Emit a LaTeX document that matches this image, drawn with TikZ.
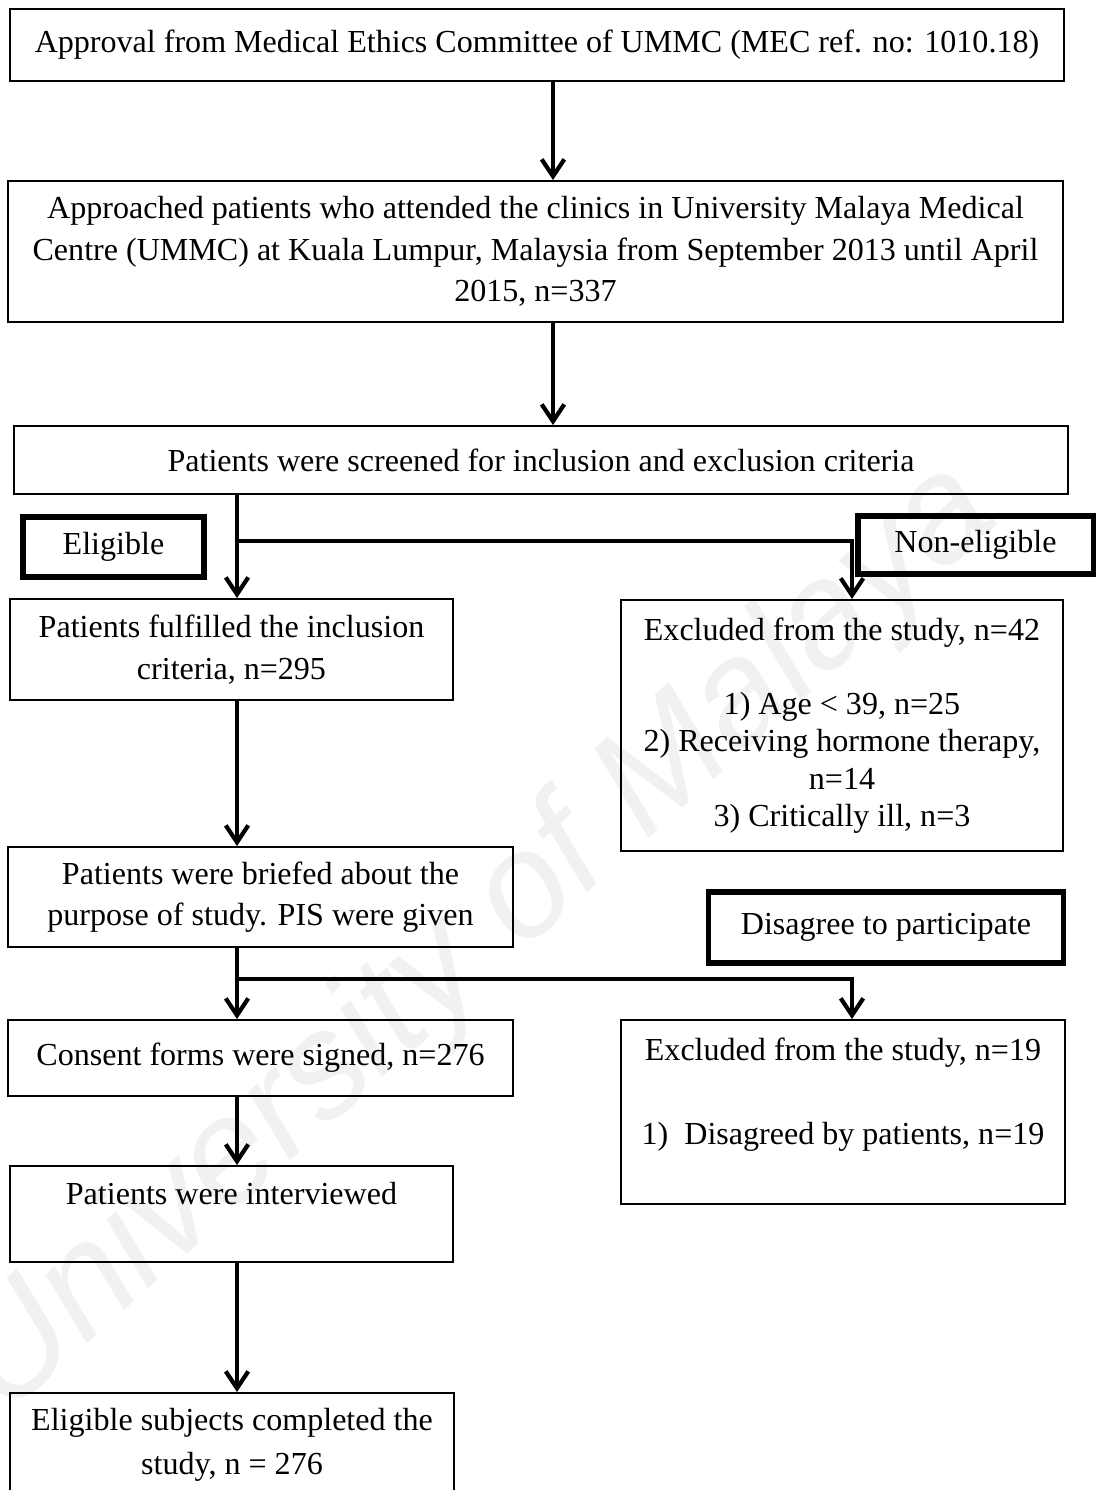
\documentclass[tikz,border=0pt]{standalone}
\usepackage{fontspec}
\setmainfont{Liberation Serif}
\newfontfamily\markfont{Liberation Sans}
\usetikzlibrary{arrows.meta,positioning}

\begin{document}
\begin{tikzpicture}[x=0.0125cm,y=-0.0125cm,
	box/.style={draw,line width=0.7pt,inner sep=0pt,align=center,font=\fontsize{11.4}{14.8}\selectfont},
	tag/.style={box,line width=1.8pt},
	flow/.style={line width=1.5pt,-{Straight Barb[length=6pt,width=8pt]}}]
	\useasboundingbox (0,0) rectangle (1096,1490);
	\node[rotate=42,text=gray!11,font=\markfont\itshape\fontsize{53}{60}\selectfont] (W) at (478,940) {University of Malaya};

	\node[box,minimum width=13.175cm,minimum height=0.9cm] (A) at (537,45) {Approval from Medical Ethics Committee of UMMC (MEC ref. no: 1010.18)};
	\node[box,minimum width=13.1875cm,minimum height=1.7625cm] (B) at (535.5,251.5) {Approached patients who attended the clinics in University Malaya Medical\\Centre (UMMC) at Kuala Lumpur, Malaysia from September 2013 until April\\2015, n=337};
	\node[box,minimum width=13.175cm,minimum height=0.85cm] (C) at (541,460) {Patients were screened for inclusion and exclusion criteria};
	\node[tag,minimum width=2.2625cm,minimum height=0.75cm] (T1) at (113.5,547) {Eligible};
	\node[tag,minimum width=2.9375cm,minimum height=0.725cm] (T2) at (975.5,545) {Non-eligible};
	\node[box,minimum width=5.5375cm,minimum height=1.2625cm] (D) at (231.5,649.5) {Patients fulfilled the inclusion\\criteria, n=295};
	\node[box,minimum width=5.525cm,minimum height=3.1375cm,font=\fontsize{11.4}{13.2}\selectfont] (E) at (842,725.5) {Excluded from the study, n=42\\[13.2pt]1) Age < 39, n=25\\2) Receiving hormone therapy,\\n=14\\3) Critically ill, n=3};
	\node[box,minimum width=6.3125cm,minimum height=1.25cm] (F) at (260.5,897) {Patients were briefed about the\\purpose of study. PIS were given};
	\node[tag,minimum width=4.425cm,minimum height=0.8875cm] (T3) at (886,927.5) {Disagree to participate};
	\node[box,minimum width=6.3125cm,minimum height=0.95cm] (G) at (260.5,1058) {Consent forms were signed, n=276};
	\node[box,minimum width=5.55cm,minimum height=2.3cm] (H) at (843,1112) {Excluded from the study, n=19\\[14.8pt]1)\enspace Disagreed by patients, n=19\\~};
	\node[box,minimum width=5.5375cm,minimum height=1.2cm] (I) at (231.5,1214) {Patients were interviewed\\~};
	\node[box,minimum width=5.55cm,minimum height=1.3cm,font=\fontsize{11.4}{15.6}\selectfont] (J) at (232,1445) {Eligible subjects completed the\\study, n = 276};

	\coordinate (mid) at (553,0);
	\coordinate (col) at (237,0);
	\coordinate (rcol) at (852,0);
	\coordinate (fork) at (237,541);
	\coordinate (split) at (237,979);

	\path (mid |- A.south) edge[flow] (mid |- B.north)
		(mid |- B.south) edge[flow] (mid |- C.north)
		(col |- C.south) edge[flow] (col |- D.north)
		(col |- D.south) edge[flow] (col |- F.north)
		(col |- F.south) edge[flow] (col |- G.north)
		(col |- G.south) edge[flow] (col |- I.north)
		(col |- I.south) edge[flow] (col |- J.north);
	\draw[flow] (fork) -- (rcol |- fork) -- (rcol |- E.north);
	\draw[flow] (split) -- (rcol |- split) -- (rcol |- H.north);
\end{tikzpicture}
\end{document}
